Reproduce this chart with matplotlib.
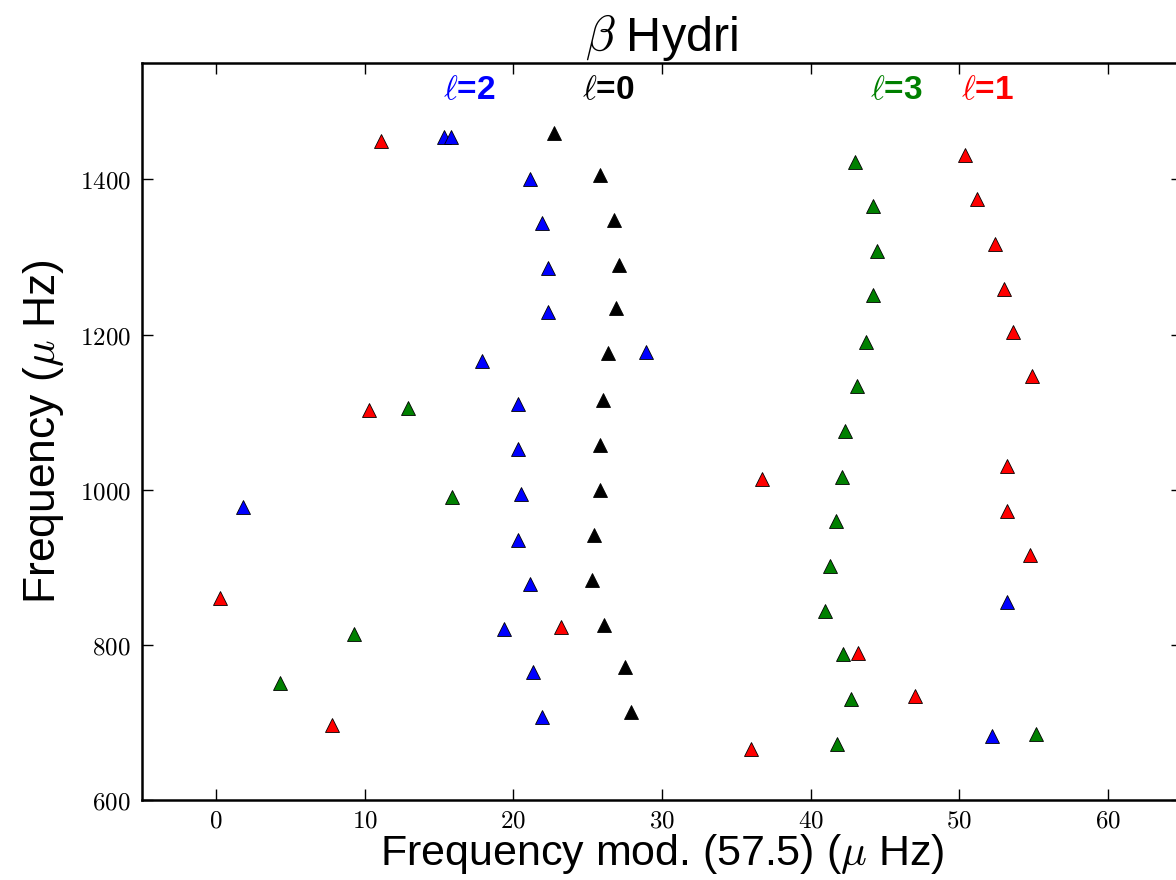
import matplotlib
matplotlib.use("Agg")
import matplotlib.pyplot as plt
from matplotlib.ticker import FuncFormatter

plt.rcParams["mathtext.fontset"] = "cm"
plt.rcParams["font.family"] = ["Liberation Sans Narrow", "Liberation Sans", "DejaVu Sans"]

# l = 0 modes (black)
l0_x = [22.7, 25.8, 26.8, 27.1, 26.9, 26.4, 26.0, 25.8, 25.8, 25.4, 25.3, 26.1, 27.5, 27.9]
l0_y = [1460, 1406, 1348, 1290, 1234, 1176, 1116, 1058, 1000, 942, 884, 826, 771, 714]

# l = 1 modes (red)
l1_x = [50.4, 51.2, 52.4, 53.0, 53.6, 54.9, 53.2, 53.2, 54.8, 43.2, 47.0, 36.7, 36.0,
        11.1, 10.3, 0.25, 7.8, 23.2]
l1_y = [1431, 1375, 1317, 1259, 1203, 1147, 1030, 972, 916, 789, 734, 1014, 666,
        1449, 1103, 860, 697, 823]

# l = 2 modes (blue)
l2_x = [15.3, 15.8, 21.1, 21.9, 22.3, 22.3, 17.9, 28.9, 20.3, 20.3, 20.5, 20.3, 21.1,
        19.4, 21.3, 21.9, 1.8, 53.2, 52.2]
l2_y = [1454, 1454, 1400, 1344, 1286, 1229, 1166, 1177, 1111, 1053, 994, 935, 879,
        821, 765, 707, 978, 855, 682]

# l = 3 modes (green)
l3_x = [43.0, 44.2, 44.5, 44.2, 43.7, 43.1, 42.3, 42.1, 41.7, 41.3, 41.0, 42.2, 42.7,
        41.8, 55.2, 15.9, 9.3, 4.3, 12.9]
l3_y = [1422, 1366, 1308, 1251, 1191, 1134, 1076, 1017, 959, 901, 843, 788, 730,
        672, 685, 991, 814, 751, 1105]

x_ticks = [0, 10, 20, 30, 40, 50, 60]
y_ticks = [600, 800, 1000, 1200, 1400]

fig = plt.figure(figsize=(11.76, 8.8), dpi=100)
ax = fig.add_axes([0.1207, 0.0909, 0.8844, 0.8375])

series = [
    (l0_x, l0_y, "black"),
    (l1_x, l1_y, "#ff0000"),
    (l2_x, l2_y, "#0000ff"),
    (l3_x, l3_y, "#008000"),
]
for xs, ys, col in series:
    ax.plot(xs, ys, ls="none", marker="^", ms=10, mfc=col, mec="black", mew=0.6)

ax.set_xlim(-5, 65)
ax.set_ylim(600, 1550)
ax.set_xticks(x_ticks)
ax.set_yticks(y_ticks)
math_fmt = FuncFormatter(lambda v, p: f"${v:.0f}$")
ax.xaxis.set_major_formatter(math_fmt)
ax.yaxis.set_major_formatter(math_fmt)
ax.tick_params(axis="both", which="both", direction="in", top=True, right=True,
               length=8, width=1, labelsize=18, pad=8)
ax.tick_params(axis="x", pad=6)
for sp in ax.spines.values():
    sp.set_linewidth(1.8)

ax.set_xlabel(r"Frequency mod. (57.5) ($\mu$ Hz)", fontsize=31, labelpad=0)
ax.set_ylabel(r"Frequency ($\mu$ Hz)", fontsize=32, labelpad=10)
ax.set_title(r"$\beta$ Hydri", fontsize=35, pad=2)

labels = [(17.0, r"$\ell$=2", "#0000ff"), (26.4, r"$\ell$=0", "black"),
          (45.8, r"$\ell$=3", "#008000"), (51.9, r"$\ell$=1", "#ff0000")]
for lx, txt, col in labels:
    ax.text(lx, 1514, txt, color=col, fontsize=24, fontweight="bold",
            ha="center", va="center")

fig.savefig("out.png", dpi=100)
